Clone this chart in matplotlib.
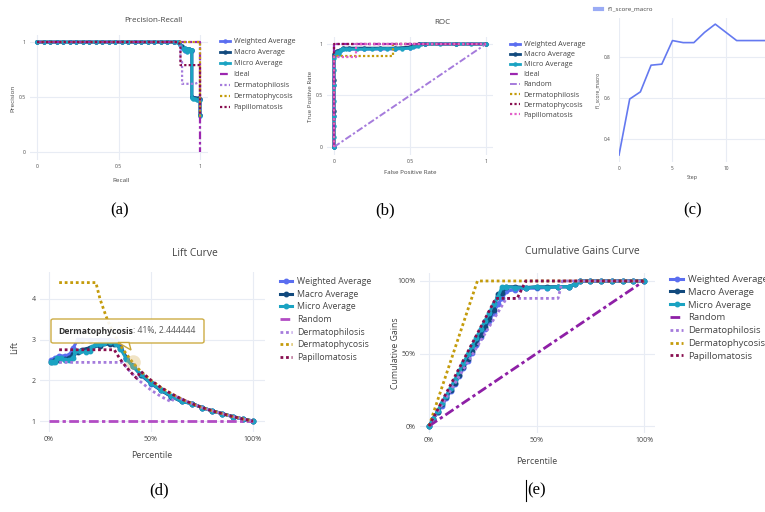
import matplotlib
matplotlib.use('Agg')
import matplotlib.pyplot as plt
from matplotlib.patches import FancyBboxPatch, Polygon
from matplotlib.lines import Line2D
from matplotlib.text import Annotation

plt.rcParams['font.family'] = ['Open Sans', 'DejaVu Sans']

# ---------------- data ----------------
# (a) Precision-Recall
pr_top_recall = [0, 0.04, 0.08, 0.12, 0.16, 0.2, 0.24, 0.28, 0.32, 0.36, 0.4, 0.44, 0.48,
                 0.52, 0.56, 0.6, 0.64, 0.68, 0.72, 0.76, 0.8, 0.84]
pr_w_recall = pr_top_recall + [0.87, 0.89, 0.91, 0.93, 0.95, 0.95, 0.97, 0.99, 1.0, 1.0]
pr_w_prec = [1.0] * 22 + [0.99, 0.95, 0.92, 0.93, 0.92, 0.5, 0.49, 0.48, 0.48, 0.34]
pr_ma_recall = pr_top_recall + [0.87, 0.89, 0.91, 0.93, 0.95, 0.95, 0.97, 0.99, 1.0, 1.0]
pr_ma_prec = [1.0] * 22 + [1.0, 0.96, 0.94, 0.94, 0.93, 0.5, 0.49, 0.49, 0.48, 0.34]
pr_mi_recall = pr_top_recall + [0.86, 0.88, 0.9, 0.91, 0.92, 0.93, 0.94, 0.95, 0.95, 0.96,
                                0.97, 0.98, 0.99, 1.0, 1.0]
pr_mi_prec = [1.0] * 22 + [1.0, 0.97, 0.93, 0.95, 0.91, 0.94, 0.92, 0.93, 0.49, 0.48,
                           0.48, 0.47, 0.47, 0.47, 0.33]
pr_ideal_recall = [0, 1, 1]
pr_ideal_prec = [1, 1, 0]
pr_dphil_recall = [0, 0.88, 0.88, 0.89, 0.89, 0.97, 1.0, 1.0]
pr_dphil_prec = [1, 1, 0.82, 0.82, 0.62, 0.62, 0.64, 0.33]
pr_dphyc_recall = [0, 1, 1]
pr_dphyc_prec = [1, 1, 0.3]
pr_papi_recall = [0, 0.87, 0.88, 0.88, 1.0, 1.0]
pr_papi_prec = [1, 1, 0.95, 0.79, 0.79, 0.33]

# (b) ROC
roc_w_fpr = [0, 0, 0, 0, 0.01, 0.02, 0.04, 0.06, 0.1, 0.2, 0.3, 0.4, 0.5, 0.53, 0.56, 0.6, 0.8, 1.0]
roc_w_tpr = [0, 0.3, 0.6, 0.88, 0.9, 0.92, 0.93, 0.95, 0.95, 0.95, 0.95, 0.95, 0.96, 0.98, 1.0, 1.0, 1.0, 1.0]
roc_ma_fpr = [0, 0, 0, 0, 0.01, 0.02, 0.04, 0.06, 0.1, 0.2, 0.3, 0.4, 0.5, 0.53, 0.56, 0.6, 0.8, 1.0]
roc_ma_tpr = [0, 0.35, 0.65, 0.9, 0.92, 0.93, 0.94, 0.96, 0.96, 0.96, 0.96, 0.96, 0.97, 0.99, 1.0, 1.0, 1.0, 1.0]
roc_mi_fpr = [0, 0, 0, 0, 0, 0, 0, 0, 0.01, 0.02, 0.03, 0.04, 0.05, 0.06, 0.08, 0.1, 0.15, 0.2,
              0.25, 0.3, 0.35, 0.4, 0.45, 0.5, 0.52, 0.55, 0.57, 0.6, 0.7, 0.8, 0.9, 1.0]
roc_mi_tpr = [0, 0.1, 0.2, 0.3, 0.45, 0.6, 0.75, 0.86, 0.9, 0.92, 0.9, 0.93, 0.95, 0.95, 0.95, 0.95,
              0.95, 0.95, 0.95, 0.955, 0.955, 0.955, 0.955, 0.96, 0.97, 0.98, 1.0, 1.0, 1.0, 1.0, 1.0, 1.0]
roc_ideal_fpr = [0, 0, 1]
roc_ideal_tpr = [0, 1, 1]
roc_rand_fpr = [0, 1]
roc_rand_tpr = [0, 1]
roc_dphil_fpr = [0, 0, 0.39, 0.39, 1]
roc_dphil_tpr = [0, 0.88, 0.88, 1, 1]
roc_dphyc_fpr = [0, 0, 1]
roc_dphyc_tpr = [0, 1, 1]
roc_papi_fpr = [0, 0, 0.145, 0.145, 1]
roc_papi_tpr = [0, 0.87, 0.87, 1, 1]

# (c) f1 score per step
f1_step = [0, 1, 2, 3, 4, 5, 6, 7, 8, 9, 10, 11, 12, 13, 14]
f1_score = [0.322, 0.595, 0.63, 0.76, 0.765, 0.88, 0.87, 0.87, 0.92, 0.96, 0.92, 0.88, 0.88, 0.88, 0.88]

# (d) Lift curve (percentile in %)
lift_w_pct = [1, 3, 5, 8, 10, 12, 14, 16, 20, 25, 30, 33, 35, 38, 41, 45, 50, 55, 60, 65, 70, 75,
              80, 85, 90, 95, 100]
lift_w = [2.5, 2.55, 2.6, 2.6, 2.62, 2.8, 3.0, 3.0, 3.0, 3.0, 3.0, 2.98, 2.85, 2.55, 2.36, 2.13,
          1.92, 1.75, 1.6, 1.48, 1.43, 1.33, 1.25, 1.18, 1.11, 1.05, 1.0]
lift_ma_pct = [1, 3, 5, 8, 10, 12, 14, 16, 20, 25, 30, 32, 35, 38, 41, 45, 50, 55, 60, 65, 70, 75,
               80, 85, 90, 95, 100]
lift_ma = [2.45, 2.5, 2.5, 2.52, 2.55, 2.65, 2.7, 2.75, 2.8, 2.85, 2.9, 2.9, 2.8, 2.55, 2.36, 2.14,
           1.93, 1.75, 1.6, 1.48, 1.43, 1.33, 1.25, 1.18, 1.11, 1.05, 1.0]
lift_mi_pct = [1, 2, 3, 4, 6, 8, 10, 12, 13, 15, 18, 20, 21, 23, 25, 27, 30, 33, 35, 38, 41, 45,
               50, 55, 60, 65, 70, 75, 80, 85, 90, 95, 100]
lift_mi = [2.45, 2.45, 2.45, 2.55, 2.55, 2.5, 2.5, 2.55, 2.72, 2.72, 2.7, 2.72, 2.82, 2.88, 2.9,
           2.92, 2.95, 2.9, 2.78, 2.52, 2.35, 2.15, 1.93, 1.76, 1.61, 1.48, 1.43, 1.33, 1.25, 1.18,
           1.11, 1.05, 1.0]
lift_rand_pct = [0, 100]
lift_rand = [1, 1]
lift_dphil_pct = [5, 36, 40, 45, 50, 55, 60, 62, 65, 70, 75, 80, 85, 90, 95, 100]
lift_dphil = [2.44, 2.44, 2.2, 1.96, 1.76, 1.6, 1.47, 1.61, 1.54, 1.43, 1.33, 1.25, 1.18, 1.11,
              1.05, 1.0]
lift_dphyc_pct = [5, 23, 25, 28, 30, 33, 36, 41, 45, 50, 55, 60, 65, 70, 75, 80, 85, 90, 95, 100]
lift_dphyc = [4.4, 4.4, 4.0, 3.57, 3.33, 3.03, 2.78, 2.44, 2.22, 2.0, 1.82, 1.67, 1.54, 1.43, 1.33,
              1.25, 1.18, 1.11, 1.05, 1.0]
lift_papi_pct = [5, 32, 34, 36, 38, 41, 43, 45, 50, 55, 60, 65, 70, 75, 80, 85, 90, 95, 100]
lift_papi = [2.75, 2.75, 2.59, 2.44, 2.32, 2.15, 2.05, 2.22, 2.0, 1.82, 1.67, 1.54, 1.43, 1.33,
             1.25, 1.18, 1.11, 1.05, 1.0]
tip_pct, tip_lift = 41, 2.444444

# (e) Cumulative gains (both axes in %)
gain_pct = [0, 2, 4, 6, 8, 10, 12, 14, 16, 18, 20, 22, 24, 26, 28, 30, 32, 34, 36, 40, 45, 50,
            55, 60, 65, 68, 70, 75, 80, 85, 90, 95, 100]
gain_w = [0, 5, 9.5, 14, 19, 24, 29, 34.5, 40, 45, 50.5, 56, 61.5, 67, 72.5, 78, 84, 88, 93, 94,
          95, 95, 95.5, 96, 96, 98, 100, 100, 100, 100, 100, 100, 100]
gain_ma = [0, 5, 10, 15, 20, 25, 30, 35.5, 41, 46.5, 52, 57.5, 63, 68.5, 74, 80, 91, 92, 96, 96,
           95.5, 96, 96, 96, 96, 98, 100, 100, 100, 100, 100, 100, 100]
gain_mi = [0, 5, 10.5, 16, 21, 26.5, 32, 38, 43.5, 49.5, 55, 61, 67, 72.5, 78, 84, 89, 96, 96,
           95.5, 95, 96, 95.5, 96, 96, 98, 100, 100, 100, 100, 100, 100, 100]
gain_rand_pct = [0, 100]
gain_rand = [0, 100]
gain_dphil_pct = [0, 36, 60, 62, 100]
gain_dphil = [0, 88, 88, 100, 100]
gain_dphyc_pct = [0, 22.5, 100]
gain_dphyc = [0, 100, 100]
gain_papi_pct = [0, 31, 41, 45, 100]
gain_papi = [0, 88, 88, 100, 100]

# ---------------- style ----------------
W, H = 765, 512
C_W = '#5b6ef0'
C_MA = '#124a7e'
C_MI = '#1ba3c2'
C_PURP = '#9c27b0'
C_LAV = '#a57bdc'
C_GOLD = '#c49b0b'
C_MAR = '#880e4f'
C_PINK = '#e35fc9'
DOT = (0, (1, 1))
DASHDOT = (0, (3.5, 1.2, 1.2, 1.2))
GRID = '#e8ecf4'
TXT = '#444444'

fig = plt.figure(figsize=(W / 100, H / 100), dpi=100)


def px_axes(x0, y0, x1, y1):
    return fig.add_axes([x0 / W, 1 - y1 / H, (x1 - x0) / W, (y1 - y0) / H])


def ftext(x, y, s, **kw):
    return fig.text(x / W, 1 - y / H, s, **kw)


def style(ax, fs):
    for s in ax.spines.values():
        s.set_visible(False)
    ax.grid(True, color=GRID, lw=0.8)
    ax.set_axisbelow(True)
    ax.tick_params(length=0, labelsize=fs, labelcolor=TXT, pad=3)


def legend(ax, x, y, fs, spacing):
    ax.legend(loc='upper left', bbox_to_anchor=(x / W, 1 - y / H), bbox_transform=fig.transFigure,
              frameon=False, fontsize=fs, handlelength=1.4, handletextpad=0.5,
              labelspacing=spacing, borderaxespad=0, borderpad=0, labelcolor=TXT)


# ---------------- (a) Precision-Recall ----------------
ax = px_axes(30, 35, 208, 160)
style(ax, 3.6)
mk = dict(marker='o', markersize=2.2)
ax.plot(pr_w_recall, pr_w_prec, color=C_W, lw=2.0, label='Weighted Average', **mk)
ax.plot(pr_ma_recall, pr_ma_prec, color=C_MA, lw=2.0, label='Macro Average', **mk)
ax.plot(pr_mi_recall, pr_mi_prec, color=C_MI, lw=2.0, label='Micro Average', **mk)
ax.plot(pr_ideal_recall, pr_ideal_prec, color=C_PURP, lw=1.6, ls=DASHDOT, label='Ideal')
ax.plot(pr_dphil_recall, pr_dphil_prec, color=C_LAV, lw=1.6, ls=DOT, label='Dermatophilosis')
ax.plot(pr_dphyc_recall, pr_dphyc_prec, color=C_GOLD, lw=1.6, ls=DOT, label='Dermatophycosis')
ax.plot(pr_papi_recall, pr_papi_prec, color=C_MAR, lw=1.6, ls=DOT, label='Papillomatosis')
ax.set_xlim(-0.043, 1.049)
ax.set_ylim(-0.073, 1.064)
ax.set_xticks([0, 0.5, 1], ['0', '0.5', '1'])
ax.set_yticks([0, 0.5, 1], ['0', '0.5', '1'])
legend(ax, 220, 38, 5.2, 0.55)
ftext(153, 20, 'Precision-Recall', ha='center', va='center', fontsize=5.8, color=TXT)
ftext(121, 180, 'Recall', ha='center', va='center', fontsize=4.6, color=TXT)
ftext(13, 98, 'Precision', ha='center', va='center', rotation=90, fontsize=4.6, color=TXT)

# ---------------- (b) ROC ----------------
ax = px_axes(327, 37, 493, 155)
style(ax, 3.6)
ax.plot(roc_w_fpr, roc_w_tpr, color=C_W, lw=2.0, label='Weighted Average', **mk)
ax.plot(roc_ma_fpr, roc_ma_tpr, color=C_MA, lw=2.0, label='Macro Average', **mk)
ax.plot(roc_mi_fpr, roc_mi_tpr, color=C_MI, lw=2.0, label='Micro Average', **mk)
ax.plot(roc_ideal_fpr, roc_ideal_tpr, color=C_PURP, lw=1.6, ls=DASHDOT, label='Ideal')
ax.plot(roc_rand_fpr, roc_rand_tpr, color=C_LAV, lw=1.4, ls=DASHDOT, label='Random')
ax.plot(roc_dphil_fpr, roc_dphil_tpr, color=C_GOLD, lw=1.6, ls=DOT, label='Dermatophilosis')
ax.plot(roc_dphyc_fpr, roc_dphyc_tpr, color=C_MAR, lw=1.6, ls=DOT, label='Dermatophycosis')
ax.plot(roc_papi_fpr, roc_papi_tpr, color=C_PINK, lw=1.6, ls=DOT, label='Papillomatosis')
ax.set_xlim(-0.046, 1.046)
ax.set_ylim(-0.078, 1.068)
ax.set_xticks([0, 0.5, 1], ['0', '0.5', '1'])
ax.set_yticks([0, 0.5, 1], ['0', '0.5', '1'])
legend(ax, 510, 41, 5.2, 0.42)
ftext(442, 23, 'ROC', ha='center', va='center', fontsize=5.8, color=TXT)
ftext(410, 173, 'False Positive Rate', ha='center', va='center', fontsize=4.4, color=TXT)
ftext(311, 96, 'True Positive Rate', ha='center', va='center', rotation=90, fontsize=4.4, color=TXT)

# ---------------- (c) f1 score ----------------
ax = px_axes(619, 18, 765, 162)
style(ax, 3.4)
ax.plot(f1_step, f1_score, color='#6479f0', lw=1.2)
ax.set_xlim(0, 13.65)
ax.set_ylim(0.288, 0.99)
ax.set_xticks([0, 5, 10])
ax.set_yticks([0.4, 0.6, 0.8], ['0.4', '0.6', '0.8'])
ax.tick_params(axis='y', pad=6)
fig.add_artist(Line2D([595 / W, 602 / W], [1 - 9 / H, 1 - 9 / H], color='#9aabf5', lw=3))
ftext(608, 9, 'f1_score_macro', ha='left', va='center', fontsize=4.5, color=TXT)
ftext(692, 178, 'Step', ha='center', va='center', fontsize=3.8, color=TXT)
ftext(598, 90, 'f1_score_macro', ha='center', va='center', rotation=90, fontsize=3.6, color=TXT)

# ---------------- (d) Lift curve ----------------
ax = px_axes(40, 272, 265, 432)
style(ax, 5.0)
mk2 = dict(marker='o', markersize=3.2)
ax.plot(lift_w_pct, lift_w, color=C_W, lw=2.2, label='Weighted Average', **mk2)
ax.plot(lift_ma_pct, lift_ma, color=C_MA, lw=2.2, label='Macro Average', **mk2)
ax.plot(lift_mi_pct, lift_mi, color=C_MI, lw=2.2, label='Micro Average', **mk2)
ax.plot(lift_rand_pct, lift_rand, color='#b24cc4', lw=2.0, ls=DASHDOT, label='Random')
ax.plot(lift_dphil_pct, lift_dphil, color=C_LAV, lw=2.0, ls=DOT, label='Dermatophilosis')
ax.plot(lift_dphyc_pct, lift_dphyc, color=C_GOLD, lw=2.0, ls=DOT, label='Dermatophycosis')
ax.plot(lift_papi_pct, lift_papi, color=C_MAR, lw=2.0, ls=DOT, label='Papillomatosis')
ax.scatter([tip_pct], [tip_lift], s=110, color='#d8b25a', alpha=0.35, zorder=5, lw=0)
ax.set_xlim(-4.4, 105.9)
ax.set_ylim(0.73, 4.66)
ax.set_xticks([0, 50, 100], ['0%', '50%', '100%'])
ax.set_yticks([1, 2, 3, 4])
legend(ax, 280, 277, 6.3, 0.42)
ftext(195, 254, 'Lift Curve', ha='center', va='center', fontsize=7.4, color=TXT)
ftext(152, 455, 'Percentile', ha='center', va='center', fontsize=6.3, color=TXT)
ftext(15, 348, 'Lift', ha='center', va='center', rotation=90, fontsize=6.3, color=TXT)

# tooltip
box = FancyBboxPatch((51 / W, 1 - 343 / H), 153 / W, 24 / H, boxstyle='round,pad=0,rounding_size=0.003',
                     transform=fig.transFigure, facecolor='white', edgecolor='#c9a635', lw=1.0,
                     alpha=0.92, zorder=10)
fig.add_artist(box)
ptr = Polygon([(118 / W, 1 - 342.5 / H), (129 / W, 1 - 342.5 / H), (131 / W, 1 - 350 / H)],
              closed=True, transform=fig.transFigure, facecolor='white', edgecolor='#c9a635',
              lw=1.0, zorder=10)
fig.add_artist(ptr)
t_bold = ftext(58, 331, 'Dermatophycosis', ha='left', va='center', fontsize=6.2,
               fontweight='bold', color='#333333', zorder=11)
ann = Annotation(': 41%, 2.444444', xy=(1, 0.5), xycoords=t_bold, ha='left', va='center',
                 fontsize=6.2, color='#555555', annotation_clip=False, zorder=11)
fig.add_artist(ann)

# ---------------- (e) Cumulative gains ----------------
ax = px_axes(420, 273, 655, 433)
style(ax, 5.0)
ax.plot(gain_pct, gain_w, color=C_W, lw=2.2, label='Weighted Average', **mk2)
ax.plot(gain_pct, gain_ma, color=C_MA, lw=2.2, label='Macro Average', **mk2)
ax.plot(gain_pct, gain_mi, color=C_MI, lw=2.2, label='Micro Average', **mk2)
ax.plot(gain_rand_pct, gain_rand, color='#8e1fa6', lw=2.0, ls=DASHDOT, label='Random')
ax.plot(gain_dphil_pct, gain_dphil, color=C_LAV, lw=2.0, ls=DOT, label='Dermatophilosis')
ax.plot(gain_dphyc_pct, gain_dphyc, color=C_GOLD, lw=2.0, ls=DOT, label='Dermatophycosis')
ax.plot(gain_papi_pct, gain_papi, color=C_MAR, lw=2.0, ls=DOT, label='Papillomatosis')
ax.set_xlim(-4.2, 105.1)
ax.set_ylim(-4.8, 105.5)
ax.set_xticks([0, 50, 100], ['0%', '50%', '100%'])
ax.set_yticks([0, 50, 100], ['0%', '50%', '100%'])
legend(ax, 670, 275, 6.8, 0.4)
ftext(582, 251, 'Cumulative Gains Curve', ha='center', va='center', fontsize=7.4, color=TXT)
ftext(537, 462, 'Percentile', ha='center', va='center', fontsize=6.3, color=TXT)
ftext(395, 353, 'Cumulative Gains', ha='center', va='center', rotation=90, fontsize=6.3, color=TXT)

# ---------------- panel labels ----------------
lab = dict(ha='center', va='center', fontsize=12, family='Liberation Serif', color='black')
ftext(120, 210, '(a)', **lab)
ftext(385, 210, '(b)', **lab)
ftext(693, 210, '(c)', **lab)
ftext(159, 490, '(d)', **lab)
ftext(537, 490, '(e)', **lab)
fig.add_artist(Line2D([526 / W, 526 / W], [1 - 480 / H, 1 - 501 / H], color='black', lw=0.8))

fig.savefig('out.png', dpi=100, facecolor='white')
